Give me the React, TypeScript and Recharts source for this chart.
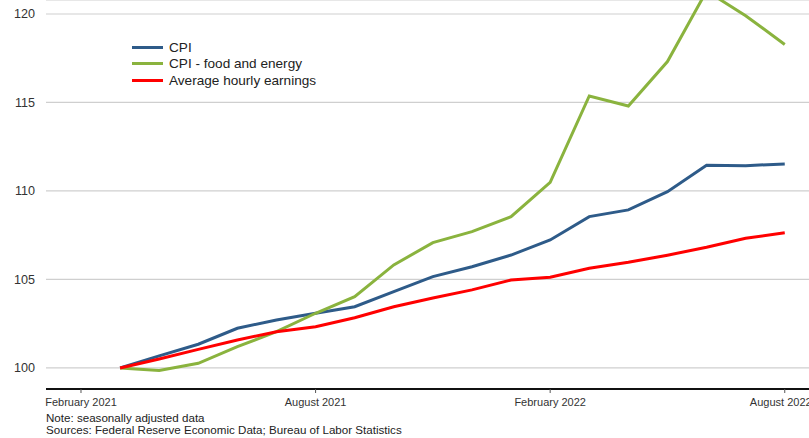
import React from 'react';
import { LineChart, Line, XAxis, YAxis, CartesianGrid, Legend } from 'recharts';

// months since February 2021 (Feb 2021 = 0)
const MONTHS = [1, 2, 3, 4, 5, 6, 7, 8, 9, 10, 11, 12, 13, 14, 15, 16, 17, 18];
const CPI = [100, 100.68, 101.34, 102.24, 102.71, 103.09, 103.46, 104.31, 105.16, 105.72, 106.38, 107.23, 108.55, 108.93, 109.96, 111.45, 111.43, 111.53];
const CPI_FOOD_ENERGY = [100, 99.85, 100.26, 101.2, 102.05, 103.09, 104.03, 105.82, 107.08, 107.7, 108.55, 110.49, 115.37, 114.8, 117.31, 121.3, 119.9, 118.28];
const HOURLY_EARNINGS = [100, 100.51, 101.05, 101.58, 102.05, 102.33, 102.84, 103.46, 103.95, 104.41, 104.97, 105.12, 105.63, 105.97, 106.37, 106.82, 107.33, 107.64];

const SERIES_NAMES = ['CPI', 'CPI - food and energy', 'Average hourly earnings'];
const X_TICKS = [0, 6, 12, 18];
const X_TICK_LABELS = ['February 2021', 'August 2021', 'February 2022', 'August 2022'];
const Y_TICKS = [100, 105, 110, 115, 120];

const data = MONTHS.map((m, i) => ({
  m,
  cpi: CPI[i],
  core: CPI_FOOD_ENERGY[i],
  ahe: HOURLY_EARNINGS[i],
}));

const FONT = '"Liberation Sans", Arial, sans-serif';

const renderLegend = (props: any) => {
  const items = [...(props.payload || [])].sort(
    (a: any, b: any) => SERIES_NAMES.indexOf(a.value) - SERIES_NAMES.indexOf(b.value)
  );
  return (
    <div style={{ fontFamily: FONT, fontSize: 13.6, color: '#222' }}>
      {items.map((p: any) => (
        <div key={p.value} style={{ display: 'flex', alignItems: 'center', height: 16.5 }}>
          <span style={{ display: 'inline-block', width: 31, height: 3, background: p.color, marginRight: 6 }} />
          <span>{p.value}</span>
        </div>
      ))}
    </div>
  );
};

const YTick = ({ y, payload }: any) => (
  <text x={35} y={y} dy="0.355em" textAnchor="end" fill="#333" fontSize={12.6} fontFamily={FONT}>
    {payload.value}
  </text>
);

export default function App() {
  return (
    <div style={{ position: 'absolute', left: 0, top: 0, width: 809, height: 438, background: '#fff' }}>
      <LineChart width={809} height={438} data={data} margin={{ top: 0, right: 0, bottom: 29, left: 0 }}>
        <CartesianGrid vertical={false} stroke="#cfcfcf" strokeWidth={1.2} />
        <XAxis
          dataKey="m"
          type="number"
          domain={[-0.895, 18.62]}
          ticks={X_TICKS}
          tickFormatter={(v: number) => X_TICK_LABELS[X_TICKS.indexOf(v)]}
          height={20}
          stroke="#111"
          strokeWidth={2}
          tickSize={4}
          tickMargin={5}
          tickLine={{ stroke: '#555', strokeWidth: 1 }}
          tick={{ fill: '#333', fontSize: 11, fontFamily: FONT }}
          allowDataOverflow
        />
        <YAxis
          type="number"
          domain={[98.81, 120.79]}
          ticks={Y_TICKS}
          width={46}
          axisLine={false}
          tickLine={false}
          tick={<YTick />}
          allowDataOverflow
        />
        <Legend
          layout="vertical"
          align="center"
          verticalAlign="middle"
          content={renderLegend}
          wrapperStyle={{ left: 132, top: 39, width: 250, height: 52 }}
        />
        <Line dataKey="cpi" name={SERIES_NAMES[0]} stroke="#2e5b89" strokeWidth={3} dot={false} isAnimationActive={false} />
        <Line dataKey="core" name={SERIES_NAMES[1]} stroke="#8ab33e" strokeWidth={3} dot={false} isAnimationActive={false} />
        <Line dataKey="ahe" name={SERIES_NAMES[2]} stroke="#ff0000" strokeWidth={3} dot={false} isAnimationActive={false} />
      </LineChart>
      <div style={{ position: 'absolute', left: 46, top: 412, fontFamily: FONT, fontSize: 11.6, color: '#222', lineHeight: '11.5px' }}>
        <div>Note: seasonally adjusted data</div>
        <div>Sources: Federal Reserve Economic Data; Bureau of Labor Statistics</div>
      </div>
    </div>
  );
}
